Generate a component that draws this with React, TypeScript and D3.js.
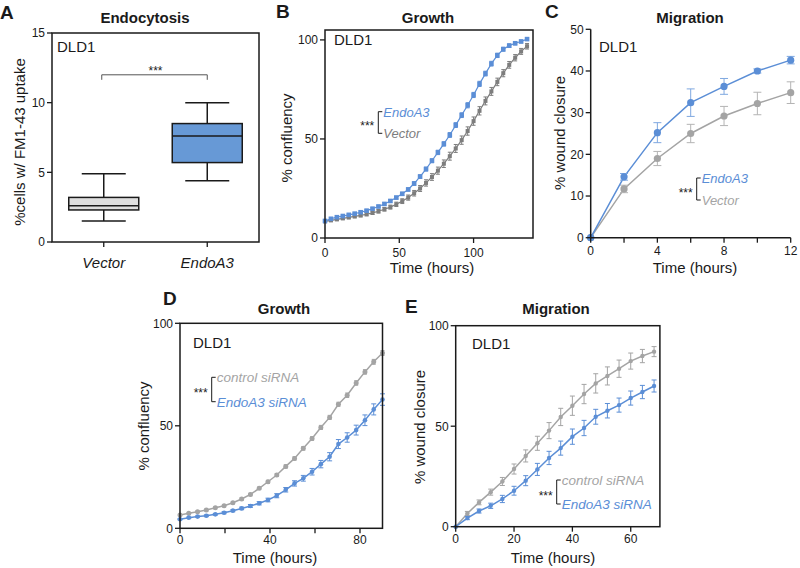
import React from "react";
import * as d3 from "d3";

const FONT = "'Liberation Sans', Arial, Helvetica, sans-serif";
const BLUE = "#5b8ed6";
const BLUE_ERR = "#7fa8e0";
const GRAY_DARK = "#7d7d7d";
const GRAY_LIGHT = "#a4a4a4";
const GRAY_ERR = "#b4b4b4";
const INK = "#1a1a1a";

// ---------- Panel A: Endocytosis box plot ----------
const boxCategories = ["Vector", "EndoA3"];
const boxMin = [1.5, 4.4];
const boxQ1 = [2.3, 5.7];
const boxMedian = [2.6, 7.6];
const boxQ3 = [3.2, 8.5];
const boxMax = [4.9, 10.0];
const aTicks = [0, 5, 10, 15];
const aBracketValue = 12;

// ---------- Panel B: Growth (EndoA3 overexpression) ----------
const bTimes = [0, 4, 8, 12, 16, 20, 24, 28, 32, 36, 40, 44, 48, 52, 56, 60, 64, 68, 72, 76, 80, 84, 88, 92, 96, 100, 104, 108, 112, 116, 120, 124, 128, 132, 136];
const bEndoA3 = [8.6, 9.7, 10.5, 11.1, 11.7, 12.3, 13.0, 13.8, 14.8, 15.9, 17.2, 18.7, 20.4, 22.3, 24.5, 27.5, 31.0, 34.8, 39.0, 43.2, 47.5, 52.0, 57.0, 62.0, 67.0, 72.2, 77.8, 83.0, 88.0, 92.2, 95.3, 97.1, 98.3, 99.2, 100.4];
const bEndoA3Err = [0.5, 0.5, 0.5, 0.5, 0.5, 0.5, 0.6, 0.6, 0.6, 0.6, 0.7, 0.7, 0.7, 0.8, 0.8, 0.9, 0.9, 1.0, 1.0, 1.1, 1.1, 1.2, 1.2, 1.2, 1.3, 1.3, 1.3, 1.2, 1.2, 1.1, 1.0, 0.9, 0.8, 0.7, 0.7];
const bVector = [8.4, 8.9, 9.4, 9.9, 10.4, 10.9, 11.4, 12.0, 12.7, 13.5, 14.5, 15.6, 17.0, 18.6, 20.4, 22.6, 25.0, 27.8, 30.8, 34.0, 37.5, 41.3, 45.2, 49.4, 54.0, 59.0, 64.2, 69.2, 74.0, 78.8, 83.2, 87.4, 91.0, 94.2, 96.8];
const bVectorErr = [0.5, 0.6, 0.6, 0.6, 0.7, 0.7, 0.7, 0.8, 0.8, 0.9, 0.9, 1.0, 1.1, 1.2, 1.3, 1.4, 1.5, 1.6, 1.7, 1.8, 1.9, 2.0, 2.0, 2.1, 2.1, 2.1, 2.1, 2.0, 2.0, 1.9, 1.8, 1.7, 1.6, 1.5, 1.4];
const bYTicks = [0, 50, 100];
const bXTicks = [0, 50, 100];

// ---------- Panel C: Migration (EndoA3 overexpression) ----------
const cTimes = [0, 2, 4, 6, 8, 10, 12];
const cEndoA3 = [0, 14.6, 25.2, 32.4, 36.3, 40.0, 42.6];
const cEndoA3Err = [0, 0.8, 2.4, 3.3, 1.9, 0.5, 0.9];
const cVector = [0, 11.7, 19.0, 25.0, 29.2, 32.2, 34.8];
const cVectorErr = [0, 0.9, 1.7, 2.2, 2.3, 2.7, 2.6];
const cYTicks = [0, 10, 20, 30, 40, 50];
const cXTicks = [0, 2, 4, 6, 8, 10, 12];
const cXLabels = [0, 4, 8, 12];

// ---------- Panel D: Growth (siRNA) ----------
const dTimes = [0, 3.9, 7.8, 11.7, 15.7, 19.6, 23.5, 27.4, 31.3, 35.2, 39.1, 43.0, 47.0, 50.9, 54.8, 58.7, 62.6, 66.5, 70.4, 74.3, 78.3, 82.2, 86.1, 90.0];
const dControl = [6.5, 7.3, 8.1, 8.9, 10.0, 11.0, 12.5, 14.3, 16.5, 19.5, 22.7, 26.0, 30.2, 34.1, 39.0, 43.8, 49.2, 54.1, 60.5, 64.9, 70.9, 76.3, 81.2, 85.5];
const dControlErr = [0.4, 0.4, 0.4, 0.4, 0.5, 0.5, 0.5, 0.6, 0.6, 0.6, 0.7, 0.7, 0.8, 0.8, 0.9, 0.9, 1.0, 1.0, 1.0, 1.1, 1.1, 1.1, 1.2, 1.2];
const dEndoA3 = [4.4, 5.2, 5.7, 6.1, 6.8, 7.6, 8.6, 9.7, 10.9, 12.2, 13.8, 15.9, 18.8, 21.9, 24.4, 27.6, 31.3, 34.9, 41.1, 44.3, 47.9, 52.7, 58.0, 62.8];
const dEndoA3Err = [0.3, 0.3, 0.3, 0.4, 0.4, 0.5, 0.5, 0.6, 0.7, 0.8, 0.9, 1.0, 1.1, 1.3, 1.4, 1.6, 1.8, 2.0, 2.2, 2.3, 2.4, 2.6, 2.7, 2.8];
const dYTicks = [0, 50, 100];
const dXTicks = [0, 20, 40, 60, 80];
const dXLabels = [0, 40, 80];

// ---------- Panel E: Migration (siRNA) ----------
const eTimes = [0, 4, 8, 12, 16, 20, 24, 28, 32, 36, 40, 44, 48, 52, 56, 60, 64, 68];
const eControl = [0, 6.6, 12.1, 17.2, 22.5, 28.7, 35.2, 41.5, 47.8, 54.6, 60.2, 66.0, 71.3, 75.0, 78.6, 82.4, 84.9, 87.1];
const eControlErr = [0, 1.0, 1.2, 1.5, 2.0, 2.5, 3.0, 3.5, 4.0, 4.3, 4.8, 4.8, 4.8, 4.5, 4.3, 4.0, 3.3, 2.5];
const eEndoA3 = [0, 4.3, 7.8, 10.4, 13.8, 17.9, 22.9, 28.5, 34.2, 39.1, 44.8, 49.1, 54.7, 57.7, 60.5, 64.0, 67.0, 70.0];
const eEndoA3Err = [0, 0.8, 1.0, 1.3, 1.8, 2.2, 2.5, 3.0, 3.3, 3.5, 3.8, 3.8, 3.7, 3.6, 3.5, 3.5, 3.3, 3.0];
const eYTicks = [0, 50, 100];
const eXTicks = [0, 20, 40, 60];

type Lin = d3.ScaleLinear<number, number>;

function YAxis({ y, x, ticks }: { y: Lin; x: number; ticks: number[] }) {
  return (
    <g>
      {ticks.map((t) => (
        <g key={t}>
          <line x1={x - 5} x2={x} y1={y(t)} y2={y(t)} stroke={INK} strokeWidth={1.3} />
          <text x={x - 7} y={y(t)} dy="0.36em" textAnchor="end" fontSize={12} fill={INK} fontFamily={FONT}>
            {t}
          </text>
        </g>
      ))}
    </g>
  );
}

function XAxis({ x, y, ticks, labels, labelDy = 17 }: { x: Lin; y: number; ticks: number[]; labels: number[]; labelDy?: number }) {
  return (
    <g>
      {ticks.map((t) => (
        <line key={t} x1={x(t)} x2={x(t)} y1={y} y2={y + 5} stroke={INK} strokeWidth={1.3} />
      ))}
      {labels.map((t) => (
        <text key={"l" + t} x={x(t)} y={y + labelDy} textAnchor="middle" fontSize={12} fill={INK} fontFamily={FONT}>
          {t}
        </text>
      ))}
    </g>
  );
}

function Series({
  xs, ys, errs, x, y, color, errColor, marker, r, lw, cap,
}: {
  xs: number[]; ys: number[]; errs: number[]; x: Lin; y: Lin; color: string; errColor: string;
  marker: "circle" | "square"; r: number; lw: number; cap: number;
}) {
  const line = d3.line<number>().x((_, i) => x(xs[i])).y((d) => y(d));
  return (
    <g>
      <path d={line(ys) || ""} fill="none" stroke={color} strokeWidth={lw} />
      {ys.map((v, i) => {
        const e = errs[i];
        if (!e) return null;
        const cx = x(xs[i]);
        return (
          <g key={"e" + i} stroke={errColor} strokeWidth={1}>
            <line x1={cx} x2={cx} y1={y(v + e)} y2={y(v - e)} />
            <line x1={cx - cap} x2={cx + cap} y1={y(v + e)} y2={y(v + e)} />
            <line x1={cx - cap} x2={cx + cap} y1={y(v - e)} y2={y(v - e)} />
          </g>
        );
      })}
      {ys.map((v, i) =>
        marker === "circle" ? (
          <circle key={"m" + i} cx={x(xs[i])} cy={y(v)} r={r} fill={color} />
        ) : (
          <rect key={"m" + i} x={x(xs[i]) - r} y={y(v) - r} width={2 * r} height={2 * r} fill={color} />
        )
      )}
    </g>
  );
}

function Legend({
  bx, yT, yB, t1, c1, t2, c2, size,
}: { bx: number; yT: number; yB: number; t1: string; c1: string; t2: string; c2: string; size: number }) {
  const mid = (yT + yB) / 2;
  return (
    <g fontFamily={FONT}>
      <text x={bx - 4} y={mid + 7.5} textAnchor="end" fontSize={12} fill={INK}>***</text>
      <path d={`M${bx + 4},${yT} H${bx} V${yB} H${bx + 4}`} fill="none" stroke={INK} strokeWidth={1} />
      <text x={bx + 5} y={yT + 5} fontSize={size} fontStyle="italic" fill={c1}>{t1}</text>
      <text x={bx + 5} y={yB + 5} fontSize={size} fontStyle="italic" fill={c2}>{t2}</text>
    </g>
  );
}

function Txt({ x, y, children, size = 15, weight = "normal", anchor = "start", rotate = false, italic = false, fill = INK }: any) {
  return (
    <text
      x={rotate ? 0 : x}
      y={rotate ? 0 : y}
      transform={rotate ? `translate(${x},${y}) rotate(-90)` : undefined}
      fontSize={size}
      fontWeight={weight}
      textAnchor={anchor}
      fontStyle={italic ? "italic" : "normal"}
      fill={fill}
      fontFamily={FONT}
    >
      {children}
    </text>
  );
}

export default function App() {
  // Panel A scales
  const aL = 52, aR = 259, aT = 33, aB = 242;
  const yA = d3.scaleLinear().domain([0, 15]).range([aB, aT]);
  const xA = d3.scalePoint<string>().domain(boxCategories).range([aL, aR]).padding(0.5);
  const boxW = 70, capW = 44;
  const boxFills = ["#dedede", "#6799d6"];

  // Panel B
  const bL = 325, bR = 533, bT = 30, bBo = 238;
  const xB = d3.scaleLinear().domain([0, 140]).range([bL, bR]);
  const yB = d3.scaleLinear().domain([0, 105]).range([bBo, bT]);

  // Panel C
  const cL = 590.7, cR = 790.7, cT = 29.3, cBo = 237.7;
  const xC = d3.scaleLinear().domain([0, 12]).range([cL, cR]);
  const yC = d3.scaleLinear().domain([0, 50]).range([cBo, cT]);

  // Panel D
  const dL = 180, dR = 382.5, dT = 323.3, dBo = 528.3;
  const xD = d3.scaleLinear().domain([0, 90]).range([dL, dR]);
  const yD = d3.scaleLinear().domain([0, 100]).range([dBo, dT]);

  // Panel E
  const eL = 455.7, eR = 659.9, eT = 325.7, eBo = 526.7;
  const xE = d3.scaleLinear().domain([0, 70]).range([eL, eR]);
  const yE = d3.scaleLinear().domain([0, 100]).range([eBo, eT]);

  const frame = (l: number, t: number, r: number, b: number) => (
    <rect x={l} y={t} width={r - l} height={b - t} fill="none" stroke={INK} strokeWidth={1.5} />
  );

  return (
    <div style={{ position: "absolute", left: 0, top: 0 }}>
      <svg width={800} height={568} viewBox="0 0 800 568" style={{ display: "block", background: "#fff" }}>
        <rect x={0} y={0} width={800} height={568} fill="#fff" />

        {/* ===== Panel A ===== */}
        <Txt x={0} y={18.5} size={19} weight="bold">A</Txt>
        <Txt x={145} y={23} weight="bold" anchor="middle">Endocytosis</Txt>
        <Txt x={25} y={142} rotate anchor="middle">%cells w/ FM1-43 uptake</Txt>
        {boxCategories.map((c, i) => {
          const cx = xA(c) as number;
          return (
            <g key={c} stroke={INK} strokeWidth={1.5}>
              <line x1={cx} x2={cx} y1={yA(boxMax[i])} y2={yA(boxQ3[i])} />
              <line x1={cx} x2={cx} y1={yA(boxQ1[i])} y2={yA(boxMin[i])} />
              <line x1={cx - capW / 2} x2={cx + capW / 2} y1={yA(boxMax[i])} y2={yA(boxMax[i])} />
              <line x1={cx - capW / 2} x2={cx + capW / 2} y1={yA(boxMin[i])} y2={yA(boxMin[i])} />
              <rect x={cx - boxW / 2} y={yA(boxQ3[i])} width={boxW} height={yA(boxQ1[i]) - yA(boxQ3[i])} fill={boxFills[i]} />
              <line x1={cx - boxW / 2} x2={cx + boxW / 2} y1={yA(boxMedian[i])} y2={yA(boxMedian[i])} />
            </g>
          );
        })}
        <path
          d={`M${(xA("Vector") as number) - 2},${yA(aBracketValue) + 5} V${yA(aBracketValue)} H${xA("EndoA3") as number} V${yA(aBracketValue) + 5}`}
          fill="none" stroke="#555" strokeWidth={1}
        />
        <Txt x={((xA("Vector") as number) + (xA("EndoA3") as number)) / 2} y={75} size={12} anchor="middle">***</Txt>
        {frame(aL, aT, aR, aB)}
        <YAxis y={yA} x={aL} ticks={aTicks} />
        {boxCategories.map((c) => (
          <g key={"xa" + c}>
            <line x1={xA(c) as number} x2={xA(c) as number} y1={aB} y2={aB + 5} stroke={INK} strokeWidth={1.3} />
            <Txt x={xA(c)} y={268} italic anchor="middle">{c}</Txt>
          </g>
        ))}
        <Txt x={57} y={52}>DLD1</Txt>

        {/* ===== Panel B ===== */}
        <Txt x={276} y={18} size={19} weight="bold">B</Txt>
        <Txt x={428} y={23} weight="bold" anchor="middle">Growth</Txt>
        <Txt x={292} y={138} rotate anchor="middle">% confluency</Txt>
        <Series xs={bTimes} ys={bVector} errs={bVectorErr} x={xB} y={yB} color={GRAY_DARK} errColor={GRAY_DARK} marker="square" r={2} lw={1.2} cap={2} />
        <Series xs={bTimes} ys={bEndoA3} errs={bEndoA3Err} x={xB} y={yB} color={BLUE} errColor={BLUE} marker="square" r={2.3} lw={1.2} cap={2} />
        {frame(bL, bT, bR, bBo)}
        <YAxis y={yB} x={bL} ticks={bYTicks} />
        <XAxis x={xB} y={bBo} ticks={bXTicks} labels={bXTicks} labelDy={18.5} />
        <Txt x={432} y={273} anchor="middle">Time (hours)</Txt>
        <Txt x={334} y={45}>DLD1</Txt>
        <Legend bx={378.3} yT={111.7} yB={133.3} t1="EndoA3" c1={BLUE} t2="Vector" c2={GRAY_DARK} size={13} />

        {/* ===== Panel C ===== */}
        <Txt x={545} y={18} size={19} weight="bold">C</Txt>
        <Txt x={690} y={23} weight="bold" anchor="middle">Migration</Txt>
        <Txt x={565} y={133} rotate anchor="middle">% wound closure</Txt>
        <Series xs={cTimes} ys={cVector} errs={cVectorErr} x={xC} y={yC} color={GRAY_LIGHT} errColor={GRAY_ERR} marker="circle" r={3.6} lw={1.5} cap={4} />
        <Series xs={cTimes} ys={cEndoA3} errs={cEndoA3Err} x={xC} y={yC} color={BLUE} errColor={BLUE_ERR} marker="circle" r={3.6} lw={1.5} cap={4} />
        <line x1={cL} x2={cL} y1={cT} y2={cBo} stroke={INK} strokeWidth={1.5} />
        <line x1={cL} x2={cR} y1={cBo} y2={cBo} stroke={INK} strokeWidth={1.5} />
        <YAxis y={yC} x={cL} ticks={cYTicks} />
        <XAxis x={xC} y={cBo} ticks={cXTicks} labels={cXLabels} />
        <Txt x={695} y={273} anchor="middle">Time (hours)</Txt>
        <Txt x={599} y={52}>DLD1</Txt>
        <Legend bx={696.7} yT={178} yB={200} t1="EndoA3" c1={BLUE} t2="Vector" c2={GRAY_LIGHT} size={13} />

        {/* ===== Panel D ===== */}
        <Txt x={163} y={305} size={19} weight="bold">D</Txt>
        <Txt x={284} y={313.5} weight="bold" anchor="middle">Growth</Txt>
        <Txt x={149} y={426} rotate anchor="middle">% confluency</Txt>
        <Series xs={dTimes} ys={dControl} errs={dControlErr} x={xD} y={yD} color={GRAY_LIGHT} errColor={GRAY_LIGHT} marker="circle" r={2.5} lw={1.5} cap={2} />
        <Series xs={dTimes} ys={dEndoA3} errs={dEndoA3Err} x={xD} y={yD} color={BLUE} errColor={BLUE} marker="circle" r={2.3} lw={1.5} cap={2.5} />
        {frame(dL, dT, dR, dBo)}
        <YAxis y={yD} x={dL} ticks={dYTicks} />
        <XAxis x={xD} y={dBo} ticks={dXTicks} labels={dXLabels} labelDy={16} />
        <Txt x={275} y={563} anchor="middle">Time (hours)</Txt>
        <Txt x={193} y={348}>DLD1</Txt>
        <Legend bx={211.7} yT={377.3} yB={401.7} t1="control siRNA" c1={GRAY_LIGHT} t2="EndoA3 siRNA" c2={BLUE} size={13.5} />

        {/* ===== Panel E ===== */}
        <Txt x={405} y={313} size={19} weight="bold">E</Txt>
        <Txt x={556} y={313.5} weight="bold" anchor="middle">Migration</Txt>
        <Txt x={425} y={427} rotate anchor="middle">% wound closure</Txt>
        <Series xs={eTimes} ys={eControl} errs={eControlErr} x={xE} y={yE} color={GRAY_LIGHT} errColor={GRAY_LIGHT} marker="circle" r={2.2} lw={1.5} cap={2.5} />
        <Series xs={eTimes} ys={eEndoA3} errs={eEndoA3Err} x={xE} y={yE} color={BLUE} errColor={BLUE} marker="circle" r={2.2} lw={1.5} cap={2.5} />
        {frame(eL, eT, eR, eBo)}
        <YAxis y={yE} x={eL} ticks={eYTicks} />
        <XAxis x={xE} y={eBo} ticks={eXTicks} labels={eXTicks} labelDy={16} />
        <Txt x={553} y={563} anchor="middle">Time (hours)</Txt>
        <Txt x={472} y={349}>DLD1</Txt>
        <Legend bx={556.7} yT={480} yB={504} t1="control siRNA" c1={GRAY_LIGHT} t2="EndoA3 siRNA" c2={BLUE} size={13.5} />
      </svg>
    </div>
  );
}
